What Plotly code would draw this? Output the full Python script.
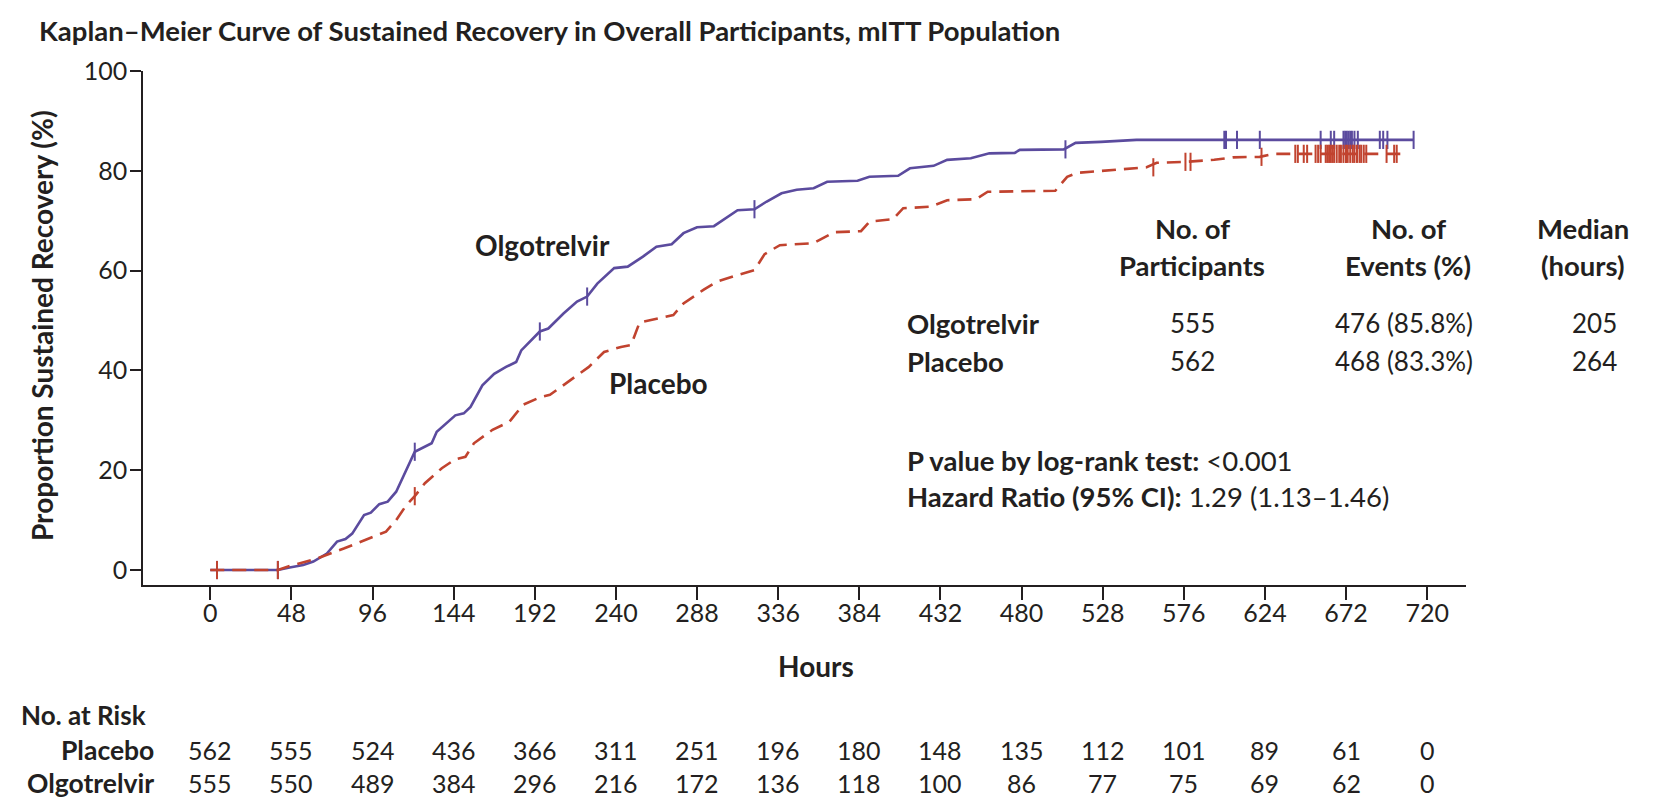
import plotly.graph_objects as go

# ---------------- data ----------------
olgo_hours = [0, 40, 47, 55, 61, 69, 75, 80, 84, 91, 95, 100, 105, 110, 121, 131, 134, 145, 150, 154,
              161, 168, 175, 181, 184, 195, 200, 209, 217, 223, 229, 239, 247, 256, 264, 273, 280, 288,
              298, 306, 312, 322, 329, 338, 347, 357, 365, 383, 390, 407, 414, 428, 436, 450, 461, 476,
              479, 505, 512, 527, 548, 712]
olgo_pct = [0, 0, 0.5, 1.0, 1.7, 3.3, 5.7, 6.2, 7.3, 11.0, 11.5, 13.2, 13.7, 15.7, 23.7, 25.4, 27.7, 31.0,
            31.4, 32.7, 37.0, 39.3, 40.7, 41.7, 44.0, 47.8, 48.4, 51.4, 53.8, 54.8, 57.4, 60.5, 60.8, 62.8,
            64.8, 65.3, 67.5, 68.7, 68.9, 70.8, 72.1, 72.3, 73.8, 75.5, 76.2, 76.5, 77.8, 78.0, 78.8, 79.0,
            80.5, 81.0, 82.2, 82.5, 83.5, 83.6, 84.2, 84.3, 85.6, 85.8, 86.2, 86.2]

plac_hours = [0, 40, 47, 57, 63, 79, 91, 104, 110, 116, 121, 127, 137, 145, 151, 156, 167, 177, 185, 195,
              201, 215, 224, 233, 243, 249, 254, 274, 280, 292, 300, 312, 322, 328, 337, 357, 365, 369,
              385, 390, 404, 410, 426, 436, 453, 460, 500, 507, 513, 536, 554, 560, 577, 594, 605, 621,
              629, 707]
plac_pct = [0, 0, 0.8, 1.8, 2.3, 4.3, 6.0, 7.7, 10.0, 13.0, 14.8, 17.4, 20.4, 22.2, 22.7, 25.4, 28.1, 29.7,
            33.1, 34.6, 35.1, 38.4, 40.7, 43.7, 44.7, 45.1, 49.6, 51.1, 53.4, 56.2, 57.8, 59.1, 60.1, 63.3,
            65.1, 65.5, 66.9, 67.7, 67.9, 69.8, 70.3, 72.5, 72.8, 74.1, 74.3, 75.8, 76.0, 78.8, 79.6, 80.2,
            80.7, 81.6, 81.8, 82.2, 82.7, 82.8, 83.4, 83.4]

olgo_cens_hours = [4, 40, 121, 195, 223, 322, 506, 600, 601, 607.5, 621, 657, 663, 665, 670.5, 671.5,
                   672.5, 673.5, 674.5, 675.5, 677, 679, 692, 694, 696.5, 712]
olgo_cens_pct = [0, 0, 23.7, 47.8, 54.8, 72.3, 84.3, 86.2, 86.2, 86.2, 86.2, 86.2, 86.2, 86.2, 86.2, 86.2,
                 86.2, 86.2, 86.2, 86.2, 86.2, 86.2, 86.2, 86.2, 86.2, 86.2]

plac_cens_hours = [4, 40, 121, 558, 577, 580, 622, 642, 643.5, 647, 649, 654, 655.5, 657, 660, 661, 662,
                   663, 664, 665, 666.5, 668, 669, 670.5, 672, 673, 674.5, 676, 677, 678.5, 680, 681,
                   682.5, 684, 696, 700.5, 702]
plac_cens_pct = [0, 0, 14.8, 80.7, 81.8, 81.8, 82.8, 83.4, 83.4, 83.4, 83.4, 83.4, 83.4, 83.4, 83.4, 83.4,
                 83.4, 83.4, 83.4, 83.4, 83.4, 83.4, 83.4, 83.4, 83.4, 83.4, 83.4, 83.4, 83.4, 83.4, 83.4,
                 83.4, 83.4, 83.4, 83.4, 83.4, 83.4]

x_ticks = [0, 48, 96, 144, 192, 240, 288, 336, 384, 432, 480, 528, 576, 624, 672, 720]
y_ticks = [0, 20, 40, 60, 80, 100]

risk_placebo = [562, 555, 524, 436, 366, 311, 251, 196, 180, 148, 135, 112, 101, 89, 61, 0]
risk_olgo = [555, 550, 489, 384, 296, 216, 172, 136, 118, 100, 86, 77, 75, 69, 62, 0]

groups = ["Olgotrelvir", "Placebo"]
n_participants = ["555", "562"]
n_events = ["476 (85.8%)", "468 (83.3%)"]
medians = ["205", "264"]

# ---------------- style ----------------
PURPLE = "#5b4b9e"
RED = "#c1432f"
INK = "#231f20"
FONT = "Lato"
BOLD = 27.5
NORMAL = 26

W, H = 1657, 802
L, R, T, B = 143, 191, 71, 217
PW, PH = W - L - R, H - T - B


def px(xpix):
    return (xpix - L) / PW


def py(ypix):
    return (H - B - ypix) / PH


fig = go.Figure()
fig.add_trace(go.Scatter(x=olgo_hours, y=olgo_pct, mode="lines",
                         line=dict(color=PURPLE, width=2.6), showlegend=False, hoverinfo="skip"))
fig.add_trace(go.Scatter(x=plac_hours, y=plac_pct, mode="lines",
                         line=dict(color=RED, width=2.6, dash="14px,8px"), showlegend=False,
                         hoverinfo="skip"))
fig.add_trace(go.Scatter(x=olgo_cens_hours, y=olgo_cens_pct, mode="markers",
                         marker=dict(symbol="line-ns-open", size=13, color=PURPLE,
                                     line=dict(color=PURPLE, width=2)),
                         showlegend=False, hoverinfo="skip"))
fig.add_trace(go.Scatter(x=plac_cens_hours, y=plac_cens_pct, mode="markers",
                         marker=dict(symbol="line-ns-open", size=13, color=RED,
                                     line=dict(color=RED, width=2)),
                         showlegend=False, hoverinfo="skip"))

ann = []


def text(t, xpix, ypix, size=BOLD, anchor="center", bold=False, angle=0):
    ann.append(dict(text=f"<b>{t}</b>" if bold else t, x=px(xpix), y=py(ypix), xref="paper",
                    yref="paper", xanchor=anchor, yanchor="middle", showarrow=False, textangle=angle,
                    font=dict(family=FONT, size=size, color=INK)))


text("Kaplan–Meier Curve of Sustained Recovery in Overall Participants, mITT Population", 37, 30,
     size=27.5, anchor="left", bold=True)
text("Proportion Sustained Recovery (%)", 42, 326, size=28, bold=True, angle=-90)
text("Hours", 816, 666, size=28, bold=True)
text("Olgotrelvir", 542, 245, size=28, bold=True)
text("Placebo", 658, 383, size=28, bold=True)

# summary table
text("No. of", 1192, 228, bold=True)
text("Participants", 1192, 265, bold=True)
text("No. of", 1408, 228, bold=True)
text("Events (%)", 1408, 265, bold=True)
text("Median", 1583, 228, bold=True)
text("(hours)", 1583, 265, bold=True)
for i, g in enumerate(groups):
    yy = [323, 361][i]
    text(g, 905, yy, anchor="left", bold=True)
    text(n_participants[i], 1192, yy, size=NORMAL)
    text(n_events[i], 1404, yy, size=NORMAL)
    text(medians[i], 1594, yy, size=NORMAL)

text("<b>P value by log-rank test:</b> &lt;0.001", 905, 460, size=BOLD, anchor="left")
text("<b>Hazard Ratio (95% CI):</b> 1.29 (1.13–1.46)", 905, 496, size=BOLD, anchor="left")

# number at risk
text("No. at Risk", 19, 715, size=26, anchor="left", bold=True)
text("Placebo", 156, 750, size=26.5, anchor="right", bold=True)
text("Olgotrelvir", 156, 783, size=26.5, anchor="right", bold=True)
for h, a, b in zip(x_ticks, risk_placebo, risk_olgo):
    for val, ypix in ((a, 750), (b, 783)):
        ann.append(dict(text=str(val), x=h, y=py(ypix), xref="x", yref="paper", xanchor="center",
                        yanchor="middle", showarrow=False,
                        font=dict(family=FONT, size=25, color=INK)))

fig.update_layout(
    width=W, height=H, autosize=False,
    margin=dict(l=L, r=R, t=T, b=B, pad=0),
    paper_bgcolor="white", plot_bgcolor="white",
    annotations=ann,
    xaxis=dict(range=[-39.8, 743], tickvals=x_ticks, ticks="outside", ticklen=13, tickwidth=1.6,
               tickcolor=INK, showline=True, linecolor=INK, linewidth=1.6, showgrid=False,
               zeroline=False, ticklabelstandoff=-8,
               tickfont=dict(family=FONT, size=25, color=INK)),
    yaxis=dict(range=[-3, 100], tickvals=y_ticks, ticks="outside", ticklen=11, tickwidth=1.6,
               tickcolor=INK, showline=True, linecolor=INK, linewidth=1.6, showgrid=False,
               zeroline=False, ticklabelstandoff=-2,
               tickfont=dict(family=FONT, size=25, color=INK)),
)

fig.write_html("out.html", config={"displayModeBar": False},
               post_script="document.body.style.margin='0';")
